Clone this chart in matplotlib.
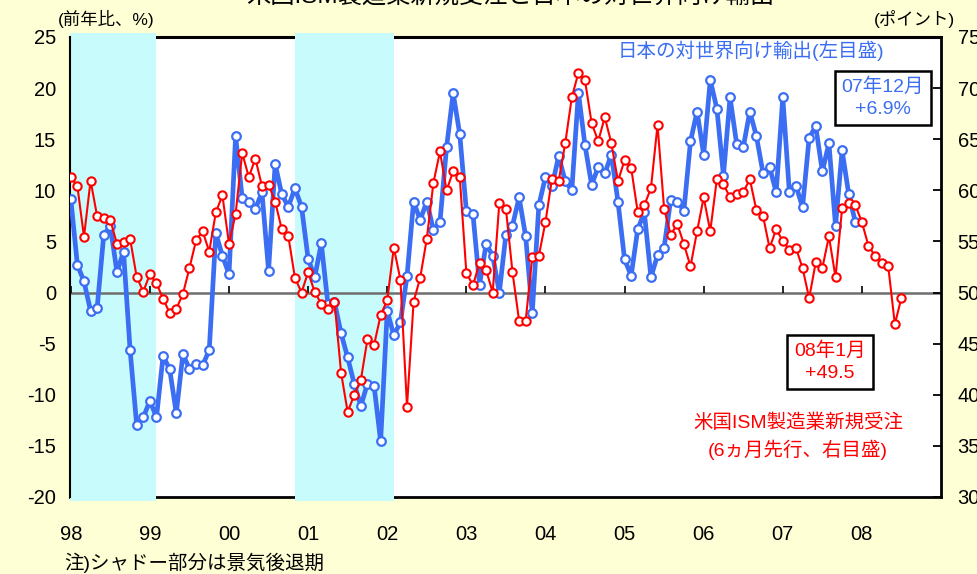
import numpy as np
from matplotlib import pyplot as plt

# Plot parameters
params = {"font.family": ["Liberation Sans", "Noto Sans CJK JP"], "axes.unicode_minus": False, "font.size": 14}
plt.rcParams.update(params)

blue = '#3B6EF2'
red = '#FF0000'
shade = '#C8FCFC'
bg = '#FFFFD6'

# Japan exports to the world, yoy % (left axis), Jan 1998 - Dec 2007
exports = [
    9.15, 2.7, 1.1, -1.8, -1.5, 5.65, 6.5, 2.0, 4.0, -5.65, -13.0, -12.2,          # 1998
    -10.6, -12.2, -6.2, -7.5, -11.8, -6.05, -7.45, -6.95, -7.1, -5.65, 5.8, 3.6,   # 1999
    1.8, 15.3, 9.25, 8.9, 8.2, 9.8, 2.15, 12.6, 9.6, 8.4, 10.2, 8.4,               # 2000
    3.3, 1.5, 4.8, -1.1, -0.9, -4.0, -6.35, -8.95, -11.1, -8.9, -9.1, -14.55,      # 2001
    -1.8, -4.2, -2.9, 1.6, 8.9, 7.1, 8.9, 6.15, 6.9, 14.2, 19.5, 15.5,             # 2002
    8.0, 7.7, 0.75, 4.75, 3.6, 0.0, 5.65, 6.55, 9.3, 5.5, -2.0, 8.55,              # 2003
    11.3, 10.4, 13.35, 10.9, 10.0, 19.55, 14.4, 10.55, 12.25, 11.65, 13.5, 8.9,    # 2004
    3.25, 1.65, 6.2, 7.85, 1.5, 3.65, 4.4, 9.1, 8.9, 8.0, 14.8, 17.7,              # 2005
    13.5, 20.8, 18.0, 11.45, 19.1, 14.55, 14.2, 17.7, 15.3, 11.7, 12.3, 9.8,       # 2006
    19.1, 9.8, 10.45, 8.35, 15.15, 16.25, 11.85, 14.6, 6.55, 13.9, 9.65, 6.9,      # 2007
]

# US ISM new orders, shifted 6 months ahead (right axis), plotted Jan 1998 - Jul 2008
ism = [
    61.3, 60.4, 55.45, 60.95, 57.45, 57.3, 57.1, 54.75, 54.9, 55.25, 51.5, 50.1,
    51.8, 50.9, 49.4, 48.0, 48.4, 49.85, 52.4, 55.1, 56.0, 54.0, 57.85, 59.5,
    54.75, 57.7, 63.65, 61.3, 63.1, 60.4, 60.55, 58.9, 56.2, 55.5, 51.45, 50.0,
    52.0, 50.05, 48.9, 48.4, 49.1, 42.15, 38.3, 40.0, 41.45, 45.45, 44.85, 47.8,
    49.25, 54.4, 51.25, 38.85, 49.1, 51.45, 55.25, 60.7, 63.8, 60.0, 61.85, 61.3,
    51.95, 50.7, 52.9, 52.2, 50.0, 58.75, 58.2, 52.0, 47.25, 47.25, 53.45, 53.6,
    56.9, 61.15, 60.9, 64.6, 69.1, 71.5, 70.75, 66.6, 64.8, 67.15, 64.6, 60.9,
    62.95, 62.2, 57.85, 58.55, 60.2, 66.4, 58.2, 55.65, 56.7, 54.75, 52.55, 56.0,
    59.3, 56.0, 61.1, 60.6, 59.3, 59.65, 59.8, 61.1, 58.05, 57.5, 54.35, 56.2,
    55.05, 54.2, 54.35, 52.4, 49.45, 52.95, 52.4, 55.5, 51.5, 58.25, 58.75, 58.55,
    56.9, 54.55, 53.6, 52.9, 52.55, 46.9, 49.5,
]

years = list(range(1998, 2009))
year_labels = ['98', '99', '00', '01', '02', '03', '04', '05', '06', '07', '08']
recessions = [(1997.99, 1999.083), (2000.833, 2002.083)]

x_exp = 1998 + np.arange(len(exports)) / 12
x_ism = 1998 + np.arange(len(ism)) / 12

fig = plt.figure(figsize=(9.77, 5.74), dpi=100, facecolor=bg)
ax = fig.add_axes([70/977, 77/574, 871/977, 460/574])
ax.set_facecolor('white')
ax2 = ax.twinx()

# recession shading, a bit past the frame like the original
for x0, x1 in recessions:
    ax.axvspan(x0, x1, ymin=-0.009, ymax=1.009, color=shade, lw=0, zorder=3, clip_on=False)

ax.axhline(0, color='#6E6E6E', lw=1.8, zorder=3.2)
ax.vlines(years, 0, 0.6, color='black', lw=1.2, zorder=3.3)

ax.plot(x_exp, exports, color=blue, lw=3.4, marker='o', ms=6.2, mfc='white', mec=blue, mew=1.6, zorder=4)
ax2.plot(x_ism, ism, color=red, lw=1.5, marker='o', ms=6.0, mfc='white', mec=red, mew=1.5, zorder=5)

ax.set_xlim(1997.99, 2009.0)
ax.set_ylim(-20, 25)
ax2.set_ylim(30, 75)
ax.set_yticks(range(-20, 30, 5))
ax2.set_yticks(range(30, 80, 5))
ax.set_xticks(years)
ax.set_xticklabels(year_labels)
ax.tick_params(axis='x', length=0, pad=20, labelsize=14.5)
ax.tick_params(axis='y', direction='in', length=6, width=1.3, pad=10, labelsize=14.5)
ax2.tick_params(axis='y', direction='in', length=6, width=1.3, pad=12, labelsize=14.5)

ax.spines['right'].set_visible(False)
ax.spines['top'].set_linewidth(2.2)
ax.spines['bottom'].set_linewidth(2.0)
ax.spines['left'].set_linewidth(1.5)
ax.spines['left'].set_zorder(3.5)
for s in ['top', 'bottom', 'left']:
    ax2.spines[s].set_visible(False)
ax2.spines['right'].set_linewidth(2.0)

# texts
W, H = 977., 574.
fig.text(510/W, 1 - 4/H, '米国ISM製造業新規受注と日本の対世界向け輸出', ha='center', va='baseline', fontsize=17.5)
fig.text(106/W, 1 - 19/H, '(前年比、%)', ha='center', va='center', fontsize=12.5)
fig.text(914/W, 1 - 19/H, '(ポイント)', ha='center', va='center', fontsize=12.5)
fig.text(751/W, 1 - 51/H, '日本の対世界向け輸出(左目盛)', ha='center', va='center', color=blue, fontsize=14)
fig.text(883/W, 1 - 98/H, '07年12月\n+6.9%', ha='center', va='center', color=blue, fontsize=14, linespacing=1.4,
         bbox=dict(boxstyle='square,pad=0.35', fc='white', ec='black', lw=1.8))
fig.text(830/W, 1 - 362/H, '08年1月\n+49.5', ha='center', va='center', color=red, fontsize=14, linespacing=1.4,
         bbox=dict(boxstyle='square,pad=0.35', fc='white', ec='black', lw=1.8))
fig.text(798/W, 1 - 437/H, '米国ISM製造業新規受注\n(6ヵ月先行、右目盛)', ha='center', va='center', color=red,
         fontsize=14, linespacing=1.5)
fig.text(64/W, 1 - 563/H, '注)シャドー部分は景気後退期', ha='left', va='center', fontsize=14)

plt.savefig('out.png', dpi=100, facecolor=bg)
